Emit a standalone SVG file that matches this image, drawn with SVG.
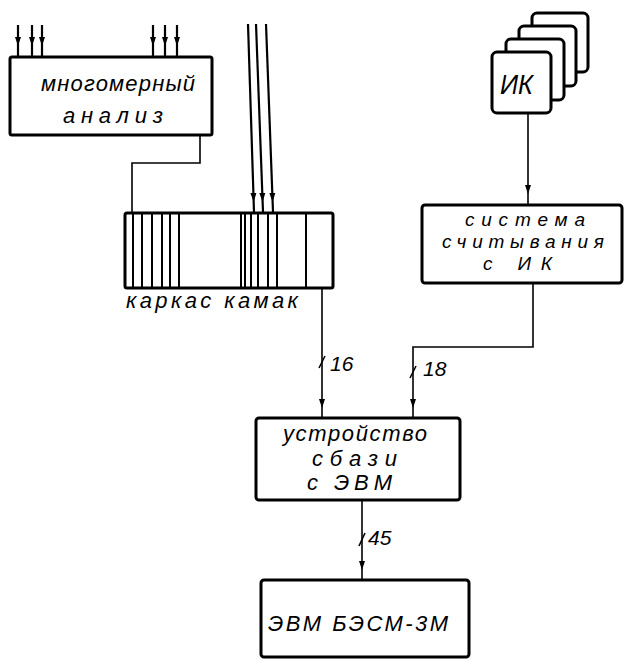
<svg xmlns="http://www.w3.org/2000/svg" width="626" height="660" viewBox="0 0 626 660">
<style>
.box{fill:#fff;stroke:#000;stroke-width:3;stroke-linejoin:round}
.ln{fill:none;stroke:#000;stroke-width:1.6}
.in{fill:none;stroke:#000;stroke-width:2.2}
.sl{fill:none;stroke:#000;stroke-width:2}
.tk{fill:none;stroke:#000;stroke-width:1.6}
.t{font-family:"Liberation Sans",Arial,sans-serif;font-style:italic;font-size:22px;fill:#000}
.s{font-size:19px}
.k{font-size:27px}
.n{font-family:"Liberation Sans",Arial,sans-serif;font-style:italic;font-size:21px;fill:#000}
</style>
<defs>
<marker id="ah" markerUnits="userSpaceOnUse" markerWidth="24" markerHeight="10" refX="19" refY="4" orient="auto" overflow="visible">
<path d="M0,1 L9,4 L0,7 z" fill="#000"/>
</marker>
</defs>

<g id="connectors">
<path class="in" d="M18,25 V56" marker-end="url(#ah)"/>
<path class="in" d="M32,25 V56" marker-end="url(#ah)"/>
<path class="in" d="M42,25 V56" marker-end="url(#ah)"/>
<path class="in" d="M153,25 V56" marker-end="url(#ah)"/>
<path class="in" d="M165,25 V56" marker-end="url(#ah)"/>
<path class="in" d="M177,25 V56" marker-end="url(#ah)"/>
<path class="in" d="M248,24 L254,212" marker-end="url(#ah)"/>
<path class="in" d="M256,24 L263,212" marker-end="url(#ah)"/>
<path class="in" d="M266,24 L273,212" marker-end="url(#ah)"/>
<path class="ln" d="M193,107 H208 M200,107 V163 H132 V214"/>
<path class="ln" d="M528,113 V204" marker-end="url(#ah)"/>
<path class="ln" d="M316,270 H328 M322,270 V418" marker-end="url(#ah)"/>
<path class="tk" d="M319,368 L325,356"/>
<path class="ln" d="M533,283 V347 H413 V418" marker-end="url(#ah)"/>
<path class="tk" d="M410,378 L416,366"/>
<path class="ln" d="M362,500 V580" marker-end="url(#ah)"/>
<path class="tk" d="M359,546 L365,533"/>
</g>

<g id="node-mnogomerny">
<rect class="box" x="10" y="57" width="202" height="78" rx="2"/>
<text class="t" x="41" y="91" textLength="154" lengthAdjust="spacing">многомерный</text>
<text class="t" x="63" y="123" textLength="100" lengthAdjust="spacing">анализ</text>
</g>

<g id="node-karkas">
<rect class="box" x="125" y="213" width="208" height="75" rx="2"/>
<g class="sl">
<line x1="133" y1="214" x2="133" y2="287"/>
<line x1="142" y1="214" x2="142" y2="287"/>
<line x1="152" y1="214" x2="152" y2="287"/>
<line x1="162" y1="214" x2="162" y2="287"/>
<line x1="170" y1="214" x2="170" y2="287"/>
<line x1="179" y1="214" x2="179" y2="287"/>
<line x1="241" y1="214" x2="241" y2="287"/>
<line x1="245" y1="214" x2="245" y2="287"/>
<line x1="251" y1="214" x2="251" y2="287"/>
<line x1="258" y1="214" x2="258" y2="287"/>
<line x1="268" y1="214" x2="268" y2="287"/>
<line x1="277" y1="214" x2="277" y2="287"/>
<line x1="306" y1="214" x2="306" y2="287"/>
</g>
<text class="t" x="126" y="308" textLength="172" lengthAdjust="spacing">каркас камак</text>
</g>

<g id="node-ik">
<rect class="box" x="532" y="13" width="56" height="59" rx="5"/>
<rect class="box" x="519" y="26" width="57" height="60" rx="5"/>
<rect class="box" x="506" y="39" width="58" height="61" rx="5"/>
<rect class="box" x="492" y="52" width="59" height="61" rx="5"/>
<text class="t k" x="500" y="94" textLength="33" lengthAdjust="spacingAndGlyphs">ИК</text>
</g>

<g id="node-sistema">
<rect class="box" x="422" y="205" width="200" height="78" rx="3"/>
<text class="t s" x="465" y="226" textLength="120" lengthAdjust="spacing">система</text>
<text class="t s" x="442" y="248" textLength="162" lengthAdjust="spacing">считывания</text>
<text class="t s" x="483" y="270" textLength="69" lengthAdjust="spacing">с  ИК</text>
</g>

<g id="node-ustroystvo">
<rect class="box" x="256" y="418" width="204" height="82" rx="3"/>
<text class="t" x="283" y="441" textLength="144" lengthAdjust="spacing">устройство</text>
<text class="t" x="312" y="466" textLength="85" lengthAdjust="spacing">сбази</text>
<text class="t" x="307" y="490" textLength="85" lengthAdjust="spacing">с  ЭВМ</text>
</g>

<g id="node-evm">
<rect class="box" x="261" y="580" width="208" height="77" rx="3"/>
<text class="t" x="268" y="631" textLength="180" lengthAdjust="spacing">ЭВМ  БЭСМ-3М</text>
</g>

<g id="labels">
<text class="n" x="330" y="371">16</text>
<text class="n" x="423" y="376">18</text>
<text class="n" x="368" y="545">45</text>
</g>
</svg>
